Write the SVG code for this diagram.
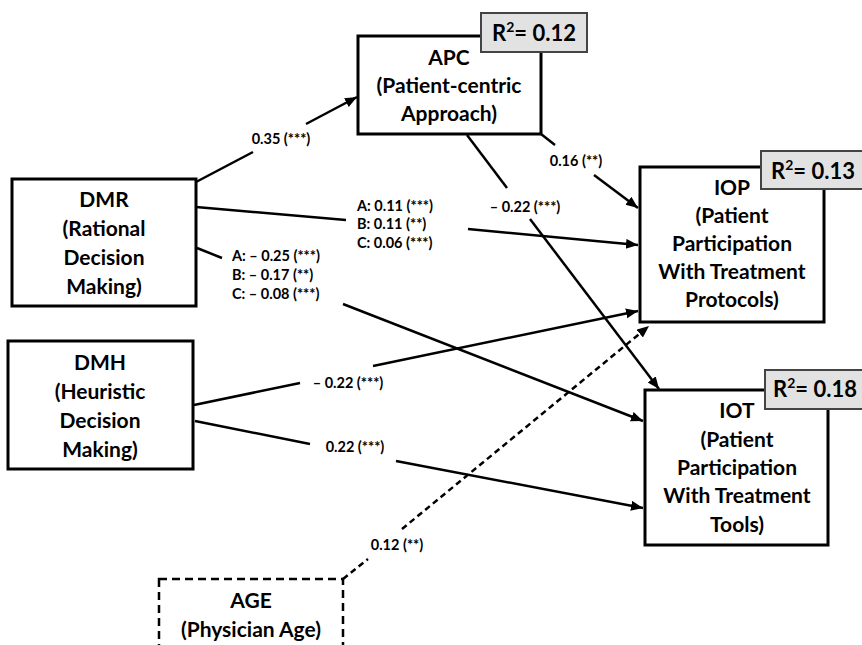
<svg xmlns="http://www.w3.org/2000/svg" width="862" height="645" viewBox="0 0 862 645">
<style>
.box{fill:#fff;stroke:#000;stroke-width:3}
.dash{fill:#fff;stroke:#000;stroke-width:2.5;stroke-dasharray:8,5}
.r2{fill:#e2e2e2;stroke:#444;stroke-width:2}
.nt{font-family:Lato,"Open Sans",sans-serif;font-weight:bold;font-size:21px;text-anchor:middle;fill:#000}
.rt{font-family:Lato,"Open Sans",sans-serif;font-weight:bold;font-size:22px;text-anchor:middle;fill:#000}
.et{font-family:Lato,"Open Sans",sans-serif;font-weight:bold;font-size:14.5px;fill:#000}
.c{text-anchor:middle}
.ln{stroke:#000;stroke-width:2.5;fill:none}
.dl{stroke:#000;stroke-width:2.5;fill:none;stroke-dasharray:6,4}
</style>
<defs>
<marker id="ah" markerUnits="userSpaceOnUse" markerWidth="14" markerHeight="12" refX="12" refY="5" orient="auto">
<path d="M0,0 L12,5 L0,10 z" fill="#000"/>
</marker>
</defs>
<rect width="862" height="645" fill="#fff"/>
<g id="connectors">
<line class="ln" x1="196" y1="182" x2="253" y2="152"/>
<line class="ln" x1="306" y1="124" x2="357" y2="97" marker-end="url(#ah)"/>
<line class="ln" x1="196" y1="207" x2="346" y2="220"/>
<line class="ln" x1="468" y1="229" x2="638" y2="245" marker-end="url(#ah)"/>
<line class="ln" x1="197" y1="248" x2="222" y2="258"/>
<line class="ln" x1="343" y1="304" x2="643" y2="421" marker-end="url(#ah)"/>
<line class="ln" x1="541" y1="134" x2="555" y2="145"/>
<line class="ln" x1="594" y1="175" x2="638" y2="208" marker-end="url(#ah)"/>
<line class="ln" x1="467" y1="135" x2="507" y2="188"/>
<line class="ln" x1="530" y1="219" x2="659" y2="389" marker-end="url(#ah)"/>
<line class="ln" x1="194" y1="405" x2="300" y2="383"/>
<line class="ln" x1="373" y1="366" x2="638" y2="311" marker-end="url(#ah)"/>
<line class="ln" x1="195" y1="421" x2="310" y2="444"/>
<line class="ln" x1="396" y1="461" x2="643" y2="508" marker-end="url(#ah)"/>
<line class="dl" x1="343" y1="579" x2="368" y2="559"/>
<line class="dl" x1="402" y1="529" x2="649" y2="326" marker-end="url(#ah)"/>
<text class="et c" x="281" y="144">0.35 (***)</text>
<text class="et" x="357" y="211">A: 0.11 (***)</text>
<text class="et" x="357" y="229">B: 0.11 (**)</text>
<text class="et" x="357" y="248">C: 0.06 (***)</text>
<text class="et" x="232" y="261">A: – 0.25 (***)</text>
<text class="et" x="232" y="280">B: – 0.17 (**)</text>
<text class="et" x="232" y="299">C: – 0.08 (***)</text>
<text class="et c" x="576" y="166">0.16 (**)</text>
<text class="et c" x="525" y="212">– 0.22 (***)</text>
<text class="et c" x="348" y="388">– 0.22 (***)</text>
<text class="et c" x="355" y="452">0.22 (***)</text>
<text class="et c" x="397" y="550">0.12 (**)</text>
</g>
<g id="DMR">
<rect class="box" x="12" y="179" width="184" height="127"/>
<text class="nt" x="104" y="207">DMR</text>
<text class="nt" x="104" y="236">(Rational</text>
<text class="nt" x="104" y="265">Decision</text>
<text class="nt" x="104" y="294">Making)</text>
</g>
<g id="DMH">
<rect class="box" x="8" y="341" width="185" height="128"/>
<text class="nt" x="100" y="370">DMH</text>
<text class="nt" x="100" y="399">(Heuristic</text>
<text class="nt" x="100" y="428">Decision</text>
<text class="nt" x="100" y="457">Making)</text>
</g>
<g id="APC">
<rect class="box" x="358" y="36" width="183" height="98"/>
<text class="nt" x="449" y="65">APC</text>
<text class="nt" x="449" y="93">(Patient-centric</text>
<text class="nt" x="449" y="121">Approach)</text>
<rect class="r2" x="481" y="13" width="106" height="39"/>
<text class="rt" x="534" y="41">R<tspan font-size="14" dy="-9">2</tspan><tspan dy="9">= 0.12</tspan></text>
</g>
<g id="IOP">
<rect class="box" x="640" y="167" width="184" height="155"/>
<text class="nt" x="732" y="195">IOP</text>
<text class="nt" x="732" y="223">(Patient</text>
<text class="nt" x="732" y="251">Participation</text>
<text class="nt" x="732" y="279">With Treatment</text>
<text class="nt" x="732" y="307">Protocols)</text>
<rect class="r2" x="761" y="151" width="104" height="38"/>
<text class="rt" x="813" y="179">R<tspan font-size="14" dy="-9">2</tspan><tspan dy="9">= 0.13</tspan></text>
</g>
<g id="IOT">
<rect class="box" x="645" y="390" width="183" height="155"/>
<text class="nt" x="737" y="418">IOT</text>
<text class="nt" x="737" y="447">(Patient</text>
<text class="nt" x="737" y="475">Participation</text>
<text class="nt" x="737" y="503">With Treatment</text>
<text class="nt" x="737" y="532">Tools)</text>
<rect class="r2" x="765" y="370" width="104" height="39"/>
<text class="rt" x="815" y="397">R<tspan font-size="14" dy="-9">2</tspan><tspan dy="9">= 0.18</tspan></text>
</g>
<g id="AGE">
<rect class="dash" x="159" y="579" width="184" height="80"/>
<text class="nt" x="251" y="608">AGE</text>
<text class="nt" x="251" y="637">(Physician Age)</text>
</g>
</svg>
